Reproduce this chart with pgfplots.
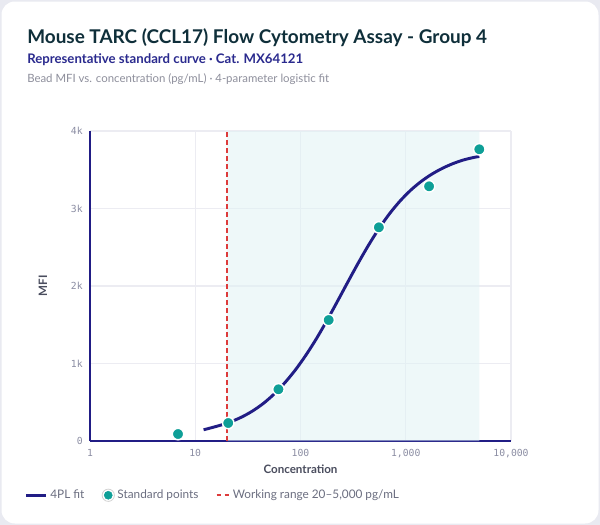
\documentclass[border=0pt]{standalone}
\usepackage{fontspec}
\setmainfont{Lato}
\newfontfamily\monofont{DejaVu Sans Mono}
\usepackage{pgfplots}
\pgfplotsset{compat=1.18}

\definecolor{cardbg}{HTML}{E9EAF1}
\definecolor{titlecol}{HTML}{0F2F3A}
\definecolor{subcol}{HTML}{2A2A8E}
\definecolor{notecol}{HTML}{8E8F9C}
\definecolor{navy}{HTML}{211D85}
\definecolor{teal}{HTML}{0E9F97}
\definecolor{band}{HTML}{DFF3F5}
\definecolor{rangered}{HTML}{DD3B3B}
\definecolor{gridcol}{HTML}{ECECF2}
\definecolor{tickcol}{HTML}{8B8DA3}
\definecolor{labcol}{HTML}{4A4D5E}
\definecolor{legcol}{HTML}{6B6E80}

\begin{document}
\begin{tikzpicture}[x=0.75pt,y=-0.75pt]
  % card
  \fill[cardbg] (0,0) rectangle (600,525);
  \fill[white, rounded corners=10pt] (1.5,1.5) rectangle (598.5,523.5);

  \node[anchor=base west, inner sep=0, font=\fontsize{14.2}{16}\selectfont\bfseries, text=titlecol] at (27,43) {Mouse TARC (CCL17) Flow Cytometry Assay - Group 4};
  \node[anchor=base west, inner sep=0, font=\fontsize{9.9}{11}\selectfont\bfseries, text=subcol] at (27,63) {Representative standard curve · Cat. MX64121};
  \node[anchor=base west, inner sep=0, font=\fontsize{8.55}{10}\selectfont, text=notecol] at (27,82) {Bead MFI vs. concentration (pg/mL) · 4-parameter logistic fit};

  \begin{axis}[
      at={(67.5pt,-330.75pt)}, anchor=south west,
      scale only axis,
      width=315.75pt, height=232.5pt,
      xmode=log,
      xmin=1, xmax=10000,
      ymin=0, ymax=4000,
      xtick={1,10,100,1000,10000},
      xticklabels={1,10,100,{1,000},{10,000}},
      ytick={0,1000,2000,3000,4000},
      yticklabels={0,1k,2k,3k,4k},
      minor xtick={},
      log basis x=10,
      major tick length=0pt,
      grid=major,
      major grid style={gridcol, line width=0.8pt},
      axis x line*=bottom,
      axis y line*=left,
      axis line style={navy, line width=1.5pt, -},
      ticklabel style={font=\monofont\fontsize{7.3}{8}\selectfont, text=tickcol},
      xticklabel style={yshift=-3pt},
      yticklabel style={xshift=-2pt},
      xlabel={Concentration},
      ylabel={MFI},
      label style={font=\fontsize{8.7}{10}\selectfont\bfseries, text=labcol},
      xlabel style={yshift=2pt},
      ylabel style={yshift=11pt},
      clip=false,
      legend columns=3,
      legend style={draw=none, fill=none, at={(-0.165,-0.175)}, anchor=west,
        font=\fontsize{8.85}{10}\selectfont, text=legcol,
        /tikz/every even column/.append style={column sep=11pt}},
      legend cell align=left,
    ]
    % working range band
    \addplot[draw=none, fill=band, fill opacity=0.5, forget plot]
      coordinates {(20,0) (20,4000) (5000,4000) (5000,0)} \closedcycle;
    % 4PL fit curve
    \addplot[navy, line width=2.2pt, smooth,
        legend image code/.code={\draw[navy, line width=2.2pt] (0pt,0pt) -- (15pt,0pt);}]
      coordinates {
      (12.0,145) (14.13,170) (17.78,208) (22.39,255) (28.18,315) (35.48,392)
      (44.67,488) (56.23,607) (70.79,750) (89.13,915) (112.2,1105) (141.3,1318)
      (177.8,1552) (223.9,1800) (281.8,2052) (354.8,2300) (446.7,2535) (562.3,2750)
      (707.9,2940) (891.3,3103) (1122,3240) (1413,3353) (1778,3445) (2239,3520)
      (2818,3580) (3548,3627) (4467,3660) (5000,3672)
    };
    \addlegendentry{4PL fit}
    % standard points
    \addplot[only marks, mark=*, mark size=4.3pt,
        mark options={fill=teal, draw=white, line width=1.1pt},
        legend image code/.code={
          \draw[gray!35, fill=white, line width=0.6pt] (5pt,0pt) circle (4.6pt);
          \fill[teal] (5pt,0pt) circle (3pt);}]
      coordinates {
      (6.86,90) (20.58,232) (61.73,667) (185.2,1561) (555.6,2757) (1666.7,3286) (5000,3764)
    };
    \addlegendentry{Standard points}
    % working range lower limit
    \addplot[rangered, line width=0.9pt, dash pattern=on 3.5pt off 2.5pt,
        legend image code/.code={\draw[rangered, line width=1.3pt, dash pattern=on 3.5pt off 2.5pt] (0pt,0pt) -- (9.5pt,0pt);}]
      coordinates {(20,0) (20,4000)};
    \addlegendentry{Working range 20–5,000 pg/mL}
  \end{axis}
\end{tikzpicture}
\end{document}
